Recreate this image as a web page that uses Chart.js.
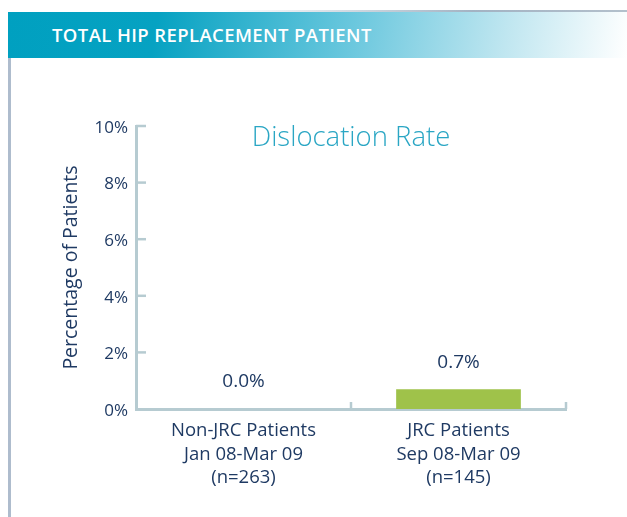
<!DOCTYPE html>
<html>
<head>
<meta charset="utf-8">
<script src="https://cdn.jsdelivr.net/npm/chart.js@4"></script>
<style>
  html, body { margin:0; padding:0; background:#fff; }
  body { width:627px; height:517px; position:relative; overflow:hidden; }
  #topline { position:absolute; left:8px; top:10px; width:619px; height:3px;
    background:linear-gradient(90deg,rgba(160,178,195,0) 0%,rgba(160,178,195,0) 35%,#a3b3c3 75%,#b3c0cc 100%); }
  #band { position:absolute; left:8px; top:12px; width:619px; height:46px;
    background:linear-gradient(100deg,#00a0c0 0%,#06a2c2 24%,#6cc8de 56%,#bfe6f0 80%,#ffffff 100%); }
  #band span { position:absolute; left:44px; top:10px; color:#fff; font:600 18.5px "Open Sans", sans-serif; letter-spacing:0.4px; }
  #leftline { position:absolute; left:8px; top:58px; width:3px; height:459px; background:#aebccd; }
  canvas { position:absolute; left:0; top:0; }
</style>
</head>
<body>
<div id="topline"></div>
<div id="band"><span>TOTAL HIP REPLACEMENT PATIENT</span></div>
<div id="leftline"></div>
<canvas id="c" width="627" height="517"></canvas>
<script>
const chartTitle = "Dislocation Rate";
const yAxisTitle = "Percentage of Patients";
const categories = [
  ["Non-JRC Patients", "Jan 08-Mar 09", "(n=263)"],
  ["JRC Patients", "Sep 08-Mar 09", "(n=145)"]
];
const dislocationRate = [0.0, 0.7];
const yTicks = [0, 2, 4, 6, 8, 10];

const NAVY = "#1f3a63";
const AXIS = "#b6cbd1";

const deco = {
  id: "deco",
  afterDraw(chart) {
    const ctx = chart.ctx;
    const x = chart.scales.x, y = chart.scales.y;
    ctx.save();
    // inward y ticks
    ctx.strokeStyle = AXIS; ctx.lineWidth = 2.5;
    yTicks.forEach(v => {
      const py = y.getPixelForValue(v);
      if (v === 0) return;
      ctx.beginPath(); ctx.moveTo(x.left, py); ctx.lineTo(x.left + 10, py); ctx.stroke();
    });
    // x category boundary ticks
    const cw = (x.right - x.left) / categories.length;
    for (let i = 0; i < categories.length; i++) {
      const px = x.getPixelForTick(i) + cw / 2;
      ctx.beginPath(); ctx.moveTo(px, y.bottom); ctx.lineTo(px, y.bottom - 7); ctx.stroke();
    }
    // chart title
    ctx.fillStyle = "#2aa6c4";
    ctx.font = '300 27.5px "Open Sans", sans-serif';
    ctx.textAlign = "center"; ctx.textBaseline = "middle";
    ctx.fillText(chartTitle, (x.left + x.right) / 2, y.getPixelForValue(9.57));
    // value labels
    ctx.fillStyle = NAVY;
    ctx.font = '19px "Open Sans", sans-serif';
    const meta = chart.getDatasetMeta(0);
    meta.data.forEach((el, i) => {
      const top = Math.min(el.y, el.base);
      ctx.fillText(dislocationRate[i].toFixed(1) + "%", el.x, top - 27);
    });
    ctx.restore();
  }
};

new Chart(document.getElementById("c"), {
  type: "bar",
  data: {
    labels: categories,
    datasets: [{
      data: dislocationRate,
      backgroundColor: "#9fc24a",
      borderWidth: 0,
      categoryPercentage: 1,
      barPercentage: 0.58
    }]
  },
  options: {
    responsive: false,
    animation: false,
    layout: { padding: { left: 60, top: 126, right: 61, bottom: 0 } },
    plugins: { legend: { display: false }, tooltip: { enabled: false }, title: { display: false } },
    scales: {
      x: {
        grid: { display: false, drawTicks: false },
        border: { color: AXIS, width: 3 },
        ticks: { color: NAVY, font: { family: "Open Sans", size: 18.5, lineHeight: 1.27 }, padding: 10, maxRotation: 0, autoSkip: false },
        afterFit(s) { s.height = 108; }
      },
      y: {
        min: 0, max: 10,
        afterBuildTicks(s) { s.ticks = yTicks.map(v => ({ value: v })); },
        grid: { display: false, drawTicks: false },
        border: { color: AXIS, width: 3 },
        ticks: { color: NAVY, font: { family: "Open Sans", size: 17 }, padding: 8, labelOffset: 2, callback: v => v + "%" },
        title: { display: true, text: yAxisTitle, color: NAVY, font: { family: "Open Sans", size: 19.5 }, padding: 0 },
        afterFit(s) { s.width = 76; }
      }
    }
  },
  plugins: [deco]
});
</script>
</body>
</html>
